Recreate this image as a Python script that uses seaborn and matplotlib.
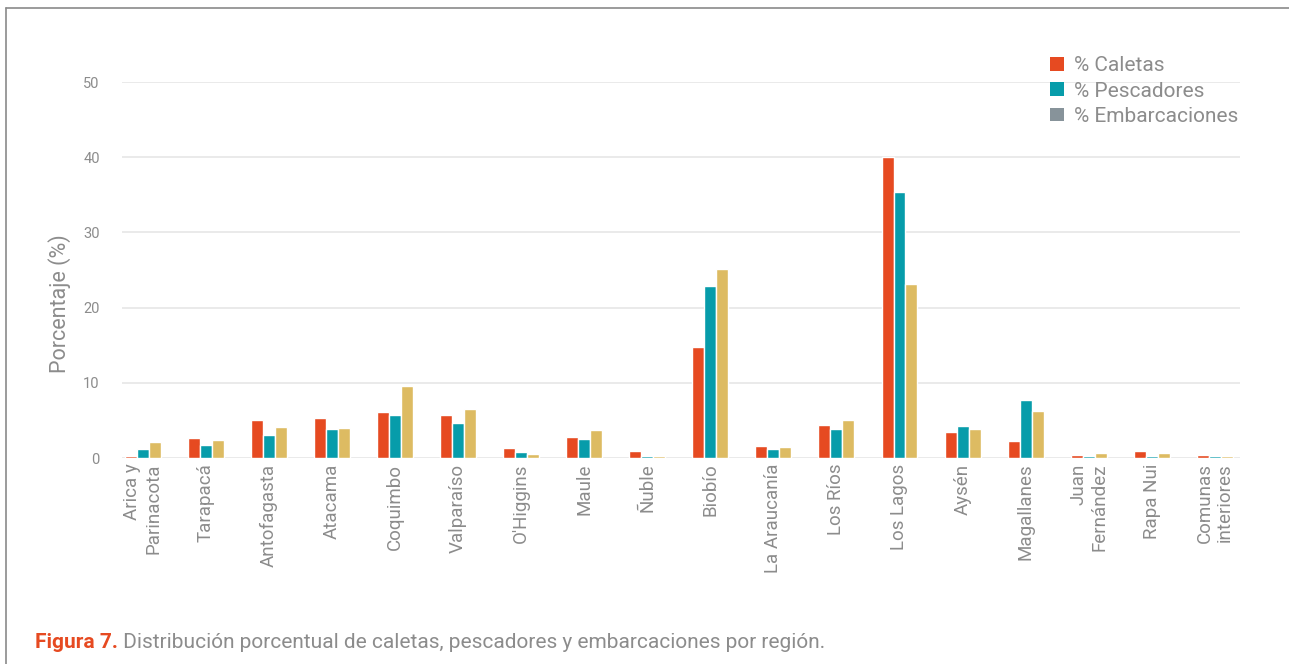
import matplotlib
matplotlib.use("Agg")
import matplotlib.pyplot as plt
import seaborn as sns
import pandas as pd
from matplotlib.patches import Patch
from matplotlib.lines import Line2D

regiones = ["Arica y\nParinacota", "Tarapacá", "Antofagasta", "Atacama", "Coquimbo",
            "Valparaíso", "O'Higgins", "Maule", "Ñuble", "Biobío", "La Araucanía",
            "Los Ríos", "Los Lagos", "Aysén", "Magallanes", "Juan\nFernández",
            "Rapa Nui", "Comunas\ninteriores"]
caletas = [0.3, 2.6, 5.0, 5.3, 6.1, 5.7, 1.3, 2.8, 0.9, 14.8, 1.6, 4.4, 40.0, 3.5, 2.2, 0.4, 0.9, 0.4]
pescadores = [1.2, 1.7, 3.0, 3.9, 5.7, 4.6, 0.8, 2.5, 0.3, 22.9, 1.2, 3.8, 35.4, 4.3, 7.7, 0.3, 0.3, 0.3]
embarcaciones = [2.1, 2.4, 4.1, 4.0, 9.6, 6.5, 0.5, 3.7, 0.3, 25.1, 1.5, 5.0, 23.1, 3.8, 6.3, 0.6, 0.6, 0.3]
series = ["% Caletas", "% Pescadores", "% Embarcaciones"]

df = pd.DataFrame({"Región": regiones, series[0]: caletas, series[1]: pescadores, series[2]: embarcaciones})
long = df.melt(id_vars="Región", var_name="Serie", value_name="Valor")

sns.set_theme(style="white")
plt.rcParams["font.family"] = ["Roboto", "DejaVu Sans"]

bar_colors = ["#E64A21", "#079CAA", "#DDBB62"]
legend_colors = ["#E64A21", "#079CAA", "#87939A"]
txt_gray = "#8C8C8C"

fig = plt.figure(figsize=(12.89, 6.64), dpi=100)
ax = fig.add_axes([122/1289, 1 - 458/664, (1240-122)/1289, (458-82)/664])

sns.barplot(data=long, x="Región", y="Valor", hue="Serie", palette=bar_colors,
            width=0.57, saturation=1, ax=ax, legend=False)

ax.set_ylim(0, 50)
ax.set_xlim(-0.33, len(regiones) - 0.6)
ax.set_yticks([0, 10, 20, 30, 40, 50])
ax.yaxis.grid(True, color="#E6E6E6", linewidth=1.2)
ax.set_axisbelow(True)
for s in ax.spines.values():
    s.set_visible(False)
ax.tick_params(axis="y", length=0, labelsize=10.5, labelcolor=txt_gray, pad=16)
ax.tick_params(axis="x", length=0, labelsize=13.5, labelcolor=txt_gray, pad=4)
ax.set_xlabel("")
ax.set_ylabel("Porcentaje (%)", fontsize=15.5, color=txt_gray)
ax.yaxis.set_label_coords(-0.046, 0.41)
for lab in ax.get_xticklabels():
    lab.set_rotation(90)
    lab.set_ha("center")
    lab.set_va("top")
    lab.set_multialignment("right")

handles = [Patch(facecolor=c, edgecolor="none") for c in legend_colors]
leg = fig.legend(handles, series, loc="upper left", bbox_to_anchor=(1042/1289, 1 - 48/664),
                 frameon=False, fontsize=15, handlelength=0.65, handleheight=0.65,
                 handletextpad=0.5, labelspacing=0.3, borderaxespad=0)
for t in leg.get_texts():
    t.set_color(txt_gray)

# frame lines (top and left)
fig.add_artist(Line2D([6/1289, 1], [1 - 8/664, 1 - 8/664], transform=fig.transFigure,
                      color="#8A8A8A", linewidth=1.2))
fig.add_artist(Line2D([6/1289, 6/1289], [0, 1 - 8/664], transform=fig.transFigure,
                      color="#8A8A8A", linewidth=1.2))

t1 = fig.text(35/1289, 1 - 643/664, "Figura 7.", color="#E64A21", fontsize=15,
              fontweight="bold", va="center", ha="left")
ax.annotate(" Distribución porcentual de caletas, pescadores y embarcaciones por región.",
            xy=(1, 0.5), xycoords=t1, va="center", ha="left", fontsize=15, color=txt_gray,
            annotation_clip=False)

fig.savefig("out.png", dpi=100)
